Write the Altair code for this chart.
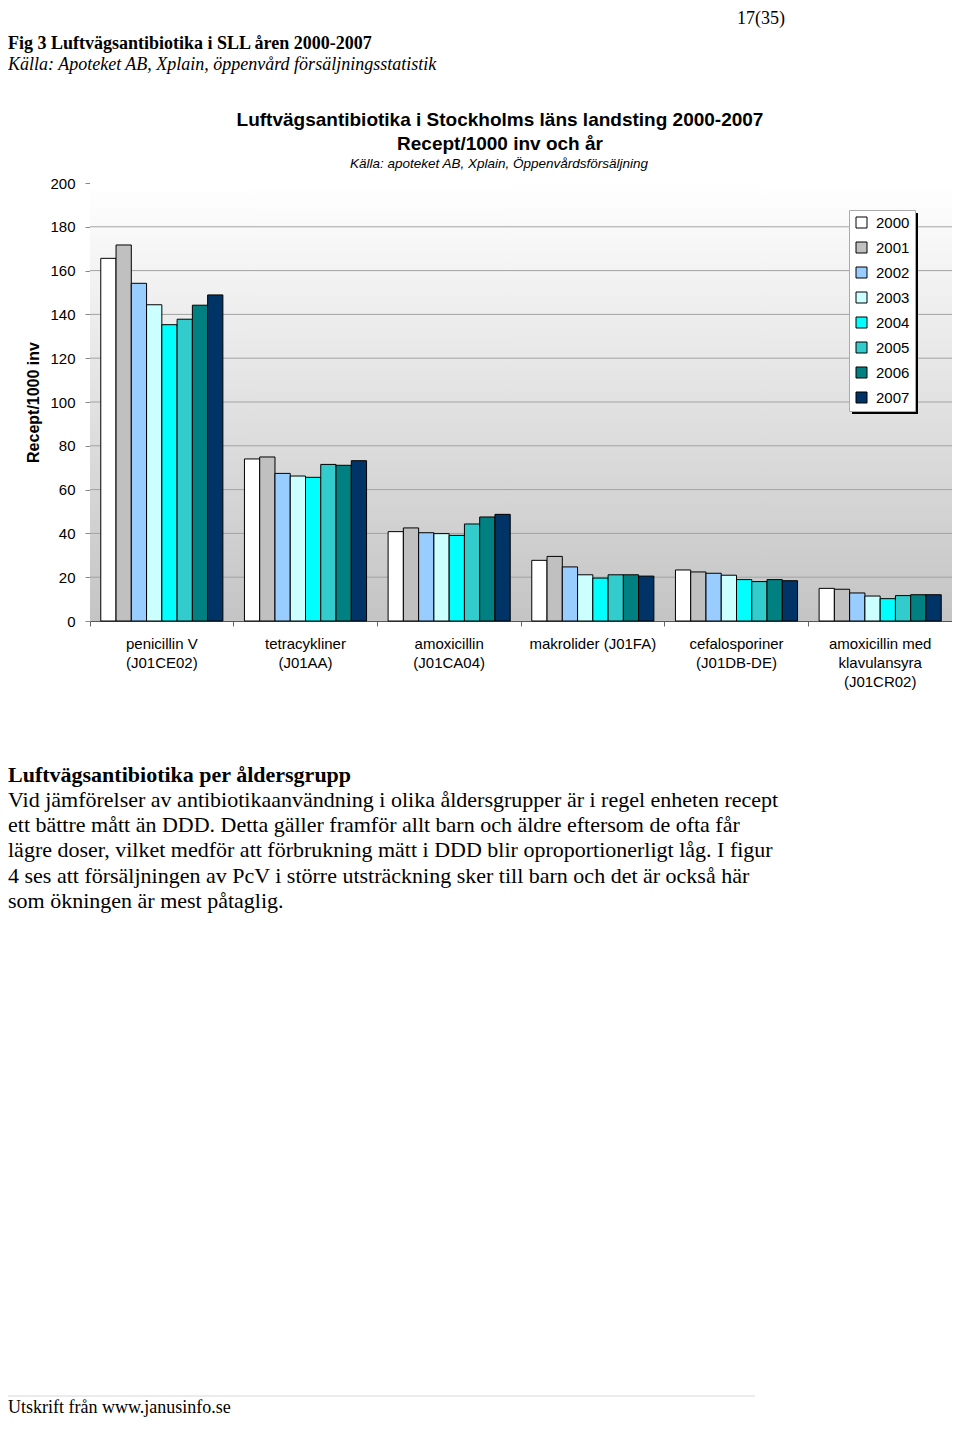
import altair as alt
import pandas as pd

# ---------------- data ----------------
categories = [
    "penicillin V\n(J01CE02)",
    "tetracykliner\n(J01AA)",
    "amoxicillin\n(J01CA04)",
    "makrolider (J01FA)",
    "cefalosporiner\n(J01DB-DE)",
    "amoxicillin med\nklavulansyra\n(J01CR02)",
]
years = ["2000", "2001", "2002", "2003", "2004", "2005", "2006", "2007"]
year_colors = ["#FFFFFF", "#C0C0C0", "#99CCFF", "#CCFFFF", "#00FFFF", "#33CCCC", "#008080", "#003366"]

penicillin_v = [165.6, 171.7, 154.2, 144.4, 135.3, 137.8, 144.2, 148.9]
tetracykliner = [74.0, 74.9, 67.4, 66.2, 65.6, 71.5, 71.1, 73.2]
amoxicillin = [40.8, 42.5, 40.3, 39.9, 39.1, 44.3, 47.5, 48.7]
makrolider = [27.7, 29.5, 24.7, 21.1, 19.6, 21.1, 21.1, 20.5]
cefalosporiner = [23.3, 22.4, 21.8, 20.9, 18.9, 18.0, 18.9, 18.4]
amox_klav = [14.9, 14.5, 12.8, 11.4, 10.2, 11.6, 12.0, 12.0]
series = [penicillin_v, tetracykliner, amoxicillin, makrolider, cefalosporiner, amox_klav]

y_ticks = [0, 20, 40, 60, 80, 100, 120, 140, 160, 180, 200]
grid_values = [20, 40, 60, 80, 100, 120, 140, 160, 180]

chart_title_1 = "Luftvägsantibiotika i Stockholms läns landsting 2000-2007"
chart_title_2 = "Recept/1000 inv och år"
chart_source = "Källa: apoteket AB, Xplain, Öppenvårdsförsäljning"
y_title = "Recept/1000 inv"

page_number = "17(35)"
fig_heading = "Fig 3 Luftvägsantibiotika i SLL åren 2000-2007"
fig_source = "Källa: Apoteket AB, Xplain, öppenvård försäljningsstatistik"
section_heading = "Luftvägsantibiotika per åldersgrupp"
paragraph_lines = [
    "Vid jämförelser av antibiotikaanvändning i olika åldersgrupper är i regel enheten recept",
    "ett bättre mått än DDD. Detta gäller framför allt barn och äldre eftersom de ofta får",
    "lägre doser, vilket medför att förbrukning mätt i DDD blir oproportionerligt låg. I figur",
    "4 ses att försäljningen av PcV i större utsträckning sker till barn och det är också här",
    "som ökningen är mest påtaglig.",
]
footer = "Utskrift från www.janusinfo.se"

rows = []
for cat, vals in zip(categories, series):
    for yr, v in zip(years, vals):
        rows.append({"kategori": cat, "år": yr, "värde": v})
df = pd.DataFrame(rows)

# ---------------- chart ----------------
W, H = 862, 438
SANS = "Liberation Sans"
SERIF = "Liberation Serif"
LEG_X, LEG_Y, LEG_W, LEG_H = 759, 27, 66, 201

one = pd.DataFrame({"a": [0]})

bg = alt.Chart(one).mark_rect(
    color=alt.Gradient(
        gradient="linear",
        stops=[alt.GradientStop(color="#ffffff", offset=0), alt.GradientStop(color="#c4c4c4", offset=1)],
        x1=0, x2=0, y1=0, y2=1,
    )
).encode(x=alt.value(0), x2=alt.value("width"), y=alt.value(0), y2=alt.value("height"))

grid = alt.Chart(pd.DataFrame({"värde": grid_values})).mark_rule(color="#a3a3a3", strokeWidth=1).encode(
    y=alt.Y("värde:Q", scale=alt.Scale(domain=[0, 200], nice=False))
)

bars = alt.Chart(df).mark_bar(stroke="black", strokeWidth=1).encode(
    x=alt.X(
        "kategori:N",
        sort=categories,
        scale=alt.Scale(paddingInner=0, paddingOuter=0),
        axis=alt.Axis(
            title=None, labelAngle=0, labelExpr="split(datum.label, '\\n')",
            bandPosition=0, ticks=True, tickSize=5, tickColor="#666666",
            domainColor="#555555", labelPadding=10, labelLineHeight=19, labelFontSize=15,
            labelFont=SANS, labelColor="black", grid=False, labelLimit=200,
        ),
    ),
    xOffset=alt.XOffset("år:N", sort=years, scale=alt.Scale(paddingInner=0, paddingOuter=0.706)),
    y=alt.Y(
        "värde:Q",
        scale=alt.Scale(domain=[0, 200], nice=False),
        axis=alt.Axis(
            values=y_ticks, grid=False, title=y_title, titleFont=SANS, titleFontSize=16,
            titleFontWeight="bold", titleColor="black", titleX=-57, titleY=H / 2, titleAngle=270,
            titleAlign="center", titleBaseline="middle", labelFont=SANS, labelFontSize=15,
            labelColor="black", labelPadding=10, tickSize=5, tickColor="#888888", domainColor="#888888",
        ),
    ),
    color=alt.Color(
        "år:N",
        sort=years,
        scale=alt.Scale(domain=years, range=year_colors),
        legend=alt.Legend(
            title=None, orient="none", legendX=LEG_X, legendY=LEG_Y, fillColor="white",
            strokeColor="#aaaaaa", padding=5, rowPadding=9, labelFont=SANS, labelFontSize=15,
            labelColor="black", symbolType="square", symbolSize=121, symbolStrokeColor="black",
            symbolStrokeWidth=1, labelOffset=7,
        ),
    ),
)

shadow = alt.Chart(one).mark_rect(color="black").encode(
    x=alt.value(LEG_X + 3), x2=alt.value(LEG_X + LEG_W + 3),
    y=alt.value(LEG_Y + 3), y2=alt.value(LEG_Y + LEG_H + 3),
)


def text_layer(text, x, y, size, font, weight="normal", style="normal", align="left", **kw):
    return alt.Chart(pd.DataFrame({"t": [text]})).mark_text(
        font=font, fontSize=size, fontWeight=weight, fontStyle=style, align=align,
        baseline="middle", color="black", **kw
    ).encode(text="t:N", x=alt.value(x), y=alt.value(y))


texts = [
    text_layer(chart_title_1, 410, -63, 19, SANS, weight="bold", align="center"),
    text_layer(chart_title_2, 410, -39, 19, SANS, weight="bold", align="center"),
    text_layer(chart_source, 409, -19, 13.5, SANS, style="italic", align="center"),
    text_layer(page_number, 647, -164, 18, SERIF),
    text_layer(fig_heading, -82, -139, 18, SERIF, weight="bold"),
    text_layer(fig_source, -82, -118, 18, SERIF, style="italic"),
    text_layer(section_heading, -82, 592, 22, SERIF, weight="bold"),
    text_layer("\n".join(paragraph_lines), -82, 617, 22, SERIF, lineBreak="\n", lineHeight=25.2),
    text_layer(footer, -82, 1225, 18, SERIF),
]

footer_line = alt.Chart(one).mark_rule(color="#d8d8d8", strokeWidth=1).encode(
    x=alt.value(-82), x2=alt.value(665), y=alt.value(1213)
)

chart = alt.layer(bg, grid, bars, shadow, footer_line, *texts).properties(
    width=W,
    height=H,
    autosize=alt.AutoSizeParams(type="none"),
    padding={"left": 82, "top": 175, "right": 0, "bottom": 799},
    background="white",
).configure_view(stroke="#a0a0a0", strokeWidth=1)

chart.save("out.html", embed_options={"renderer": "svg", "actions": False})
